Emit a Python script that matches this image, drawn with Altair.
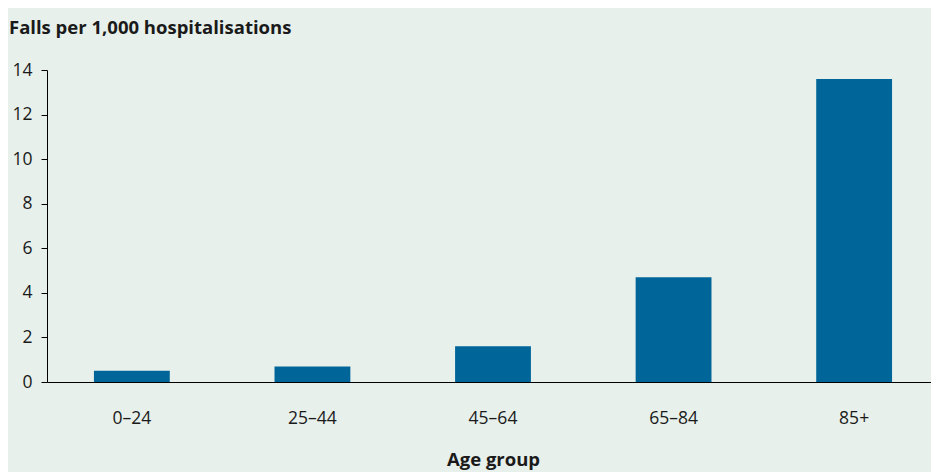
import altair as alt
import pandas as pd

age_groups = ["0–24", "25–44", "45–64", "65–84", "85+"]
falls_rate = [0.5, 0.7, 1.6, 4.7, 13.6]

df = pd.DataFrame({"age": age_groups, "rate": falls_rate})

FONT = "Open Sans"
BG = "#e7f0eb"
BAR = "#00669a"

chart = (
    alt.Chart(df)
    .mark_bar(color=BAR)
    .encode(
        x=alt.X(
            "age:N",
            sort=age_groups,
            scale=alt.Scale(paddingInner=0.58, paddingOuter=0.26, range=[0, 892]),
            axis=alt.Axis(
                title="Age group",
                labelAngle=0,
                ticks=False,
                domainColor="#000000",
                domainWidth=1.2,
                labelFontSize=17.5,
                labelFont=FONT,
                labelColor="#1a1a1a",
                labelPadding=27,
                labelBaseline="top",
                titleFont=FONT,
                titleFontSize=18.5,
                titleFontWeight="bold",
                titleColor="#1a1a1a",
                titlePadding=24,
                titleAnchor="middle",
            ),
        ),
        y=alt.Y(
            "rate:Q",
            scale=alt.Scale(domain=[0, 14]),
            axis=alt.Axis(
                title=None,
                values=[0, 2, 4, 6, 8, 10, 12, 14],
                grid=False,
                domainColor="#000000",
                tickColor="#000000",
                tickSize=6,
                labelFontSize=17.5,
                labelFont=FONT,
                labelColor="#1a1a1a",
                labelPadding=9,
            ),
        ),
    )
    .properties(
        width=884,
        height=312,
        background=BG,
        autosize=alt.AutoSizeParams(type="none"),
        padding={"left": 39, "top": 62, "right": 0, "bottom": 100},
        title=alt.TitleParams(
            "Falls per 1,000 hospitalisations",
            anchor="start",
            frame="group",
            dx=-38,
            offset=24,
            font=FONT,
            fontSize=18.5,
            fontWeight="bold",
            color="#1a1a1a",
        ),
    )
    .configure_view(stroke=None, fill=BG)
)

chart.save("out.html", embed_options={"renderer": "svg", "actions": False})
